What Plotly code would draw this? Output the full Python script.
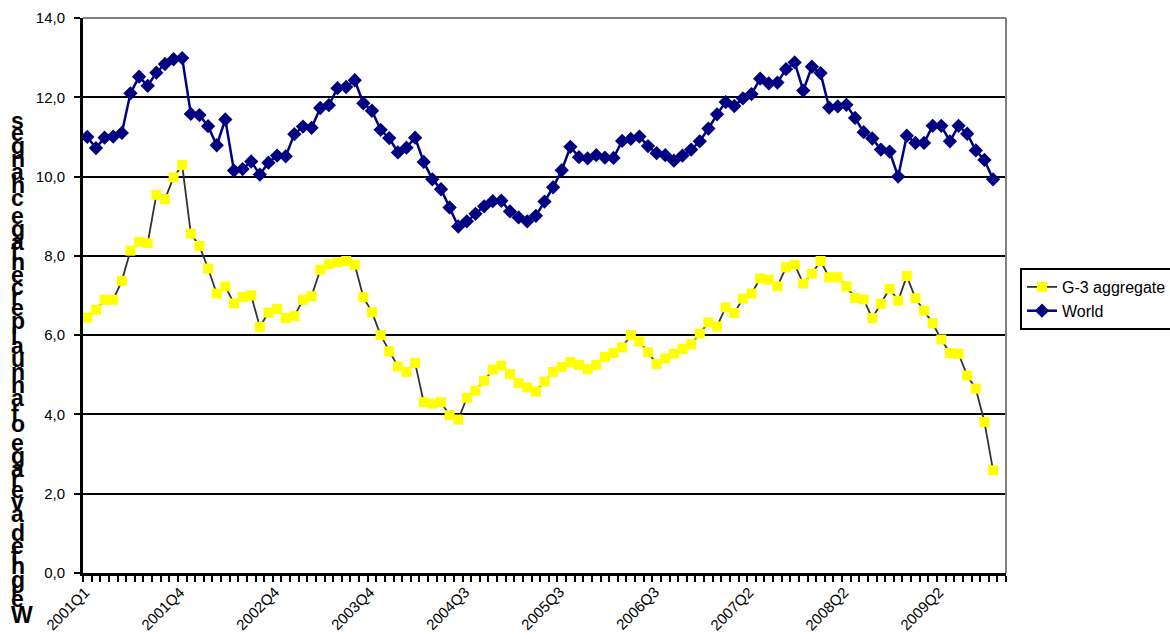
import plotly.graph_objects as go
import numpy as np

# ---- data (monthly, Jan 2001 .. Oct 2009) ----
world = [11.0, 10.72, 10.98, 11.01, 11.10, 12.10, 12.52, 12.29, 12.62, 12.84, 12.96, 12.99,
         11.58, 11.55, 11.27, 10.79, 11.44, 10.15, 10.19, 10.38, 10.05, 10.35,
         10.53, 10.51, 11.07, 11.26, 11.23, 11.73, 11.80, 12.23, 12.26, 12.43,
         11.85, 11.66, 11.18, 10.97, 10.61, 10.73, 10.98, 10.37, 9.93, 9.68,
         9.22, 8.74, 8.87, 9.06, 9.25, 9.38, 9.39, 9.12, 8.97, 8.87,
         9.01, 9.37, 9.73, 10.16, 10.75, 10.49, 10.46, 10.54, 10.48, 10.47,
         10.90, 10.95, 11.01, 10.77, 10.59, 10.54, 10.40, 10.53, 10.68, 10.89,
         11.21, 11.57, 11.88, 11.78, 11.97, 12.08, 12.47, 12.35, 12.37, 12.71,
         12.88, 12.17, 12.77, 12.61, 11.74, 11.77, 11.81, 11.48, 11.12, 10.96,
         10.68, 10.63, 10.00, 11.03, 10.85, 10.85, 11.28, 11.28, 10.89, 11.28,
         11.08, 10.66, 10.42, 9.93]

g3 = [6.44, 6.64, 6.89, 6.89, 7.37, 8.13, 8.35, 8.32, 9.54, 9.43, 9.98, 10.29,
      8.56, 8.25, 7.68, 7.05, 7.23, 6.80, 6.96, 7.00, 6.21, 6.57,
      6.66, 6.43, 6.48, 6.89, 6.98, 7.65, 7.79, 7.84, 7.87, 7.78,
      6.96, 6.58, 6.00, 5.59, 5.21, 5.07, 5.30, 4.31, 4.27, 4.31,
      3.98, 3.87, 4.42, 4.60, 4.85, 5.13, 5.23, 5.02, 4.79, 4.68,
      4.58, 4.83, 5.07, 5.20, 5.32, 5.25, 5.14, 5.25, 5.45, 5.55,
      5.69, 6.00, 5.84, 5.57, 5.27, 5.41, 5.53, 5.65, 5.77, 6.04,
      6.32, 6.22, 6.70, 6.56, 6.92, 7.05, 7.43, 7.40, 7.23, 7.71,
      7.78, 7.30, 7.55, 7.87, 7.46, 7.46, 7.23, 6.94, 6.90, 6.43,
      6.79, 7.17, 6.87, 7.49, 6.93, 6.62, 6.30, 5.89, 5.55, 5.53,
      4.98, 4.65, 3.81, 2.59]

x_tick_pos = [0, 11, 22, 33, 44, 55, 66, 77, 88, 99]
x_tick_labels = ["2001Q1", "2001Q4", "2002Q4", "2003Q4", "2004Q3",
                 "2005Q3", "2006Q3", "2007Q2", "2008Q2", "2009Q2"]
y_tick_vals = [0, 2, 4, 6, 8, 10, 12, 14]
y_tick_labels = ["0,0", "2,0", "4,0", "6,0", "8,0", "10,0", "12,0", "14,0"]
y_title = "Weighted average of annual percentage changes"

x = list(range(len(world)))
n_cats = len(world) + 1

W, H = 1170, 639
L, R, T, B = 83, 164, 18, 66
pw, ph = W - L - R, H - T - B

fig = go.Figure()
fig.add_trace(go.Scatter(
    x=x, y=g3, name="G-3 aggregate", mode="lines+markers",
    line=dict(color="#333333", width=1.8),
    marker=dict(symbol="square", size=10, color="#FFFF00", line=dict(width=0)),
))
fig.add_trace(go.Scatter(
    x=x, y=world, name="World", mode="lines+markers",
    line=dict(color="#000080", width=2.5),
    marker=dict(symbol="diamond", size=11, color="#000080", line=dict(width=0)),
))

# stacked upright-glyph axis title (as in the original)
adv = {'W': 944, 'e': 556, 'i': 278, 'g': 611, 'h': 611, 't': 333, 'd': 611, ' ': 278,
       'a': 556, 'v': 556, 'r': 389, 'o': 611, 'f': 333, 'n': 611, 'u': 611, 'l': 278,
       'p': 611, 'c': 556, 's': 556}
centers = []
pos = 0.0
for ch in y_title:
    w = adv.get(ch, 556)
    centers.append(pos + w / 2)
    pos += w
py_first, py_last = 615.0, 121.0
scale = (py_first - py_last) / (centers[-1] - centers[0])
annotations = []
for ch, c in zip(y_title, centers):
    if ch == ' ':
        continue
    py = py_first - (c - centers[0]) * scale
    annotations.append(dict(
        text=ch, xref="paper", yref="paper",
        x=(9 - L) / pw, y=(H - B - py) / ph,
        xanchor="left", yanchor="middle", showarrow=False,
        font=dict(family="Liberation Sans", size=23, color="black", weight="bold"),
    ))

# rotated category labels placed at the axis tick positions
for xp, lab in zip(x_tick_pos, x_tick_labels):
    annotations.append(dict(
        text=lab, xref="x", yref="paper", x=xp, y=(H - B - 581) / ph,
        xanchor="right", yanchor="top", xshift=8, textangle=-45, showarrow=False,
        font=dict(family="Liberation Sans", size=15, color="black"),
    ))

fig.update_layout(
    width=W, height=H,
    margin=dict(l=L, r=R, t=T, b=B, autoexpand=False),
    paper_bgcolor="white", plot_bgcolor="white",
    font=dict(family="Liberation Sans", size=15, color="black"),
    showlegend=True,
    legend=dict(
        x=(1020 - L) / pw, y=(H - B - 268) / ph, xanchor="left", yanchor="top",
        bordercolor="black", borderwidth=2, bgcolor="white",
        font=dict(size=16, color="black"), tracegroupgap=0,
    ),
    annotations=annotations,
    shapes=[
        dict(type="line", xref="paper", yref="paper", x0=0, x1=1, y0=1, y1=1,
             line=dict(color="#808080", width=2), layer="above"),
        dict(type="line", xref="paper", yref="paper", x0=1, x1=1, y0=0, y1=1,
             line=dict(color="#808080", width=2), layer="above"),
    ],
)

fig.update_xaxes(
    range=[-0.5, n_cats - 0.5], tickmode="array", tickvals=x_tick_pos,
    ticktext=x_tick_labels, showticklabels=False, ticks="",
    showgrid=False, zeroline=False,
    showline=True, linecolor="black", linewidth=3,
    minor=dict(tickmode="linear", tick0=-0.5, dtick=1, ticks="outside",
               ticklen=6, tickwidth=2, tickcolor="black", showgrid=False),
)
fig.update_yaxes(
    range=[0, 14], tickmode="array", tickvals=y_tick_vals, ticktext=y_tick_labels,
    ticks="outside", ticklen=6, tickwidth=2, tickcolor="black",
    showgrid=True, gridcolor="black", gridwidth=2, zeroline=False,
    showline=True, linecolor="black", linewidth=3,
    tickfont=dict(size=15, color="black"), ticklabelstandoff=6,
)

fig.write_html(
    "out.html",
    config={"displayModeBar": False},
    post_script="document.body.style.margin='0';document.body.style.overflow='hidden';",
)
